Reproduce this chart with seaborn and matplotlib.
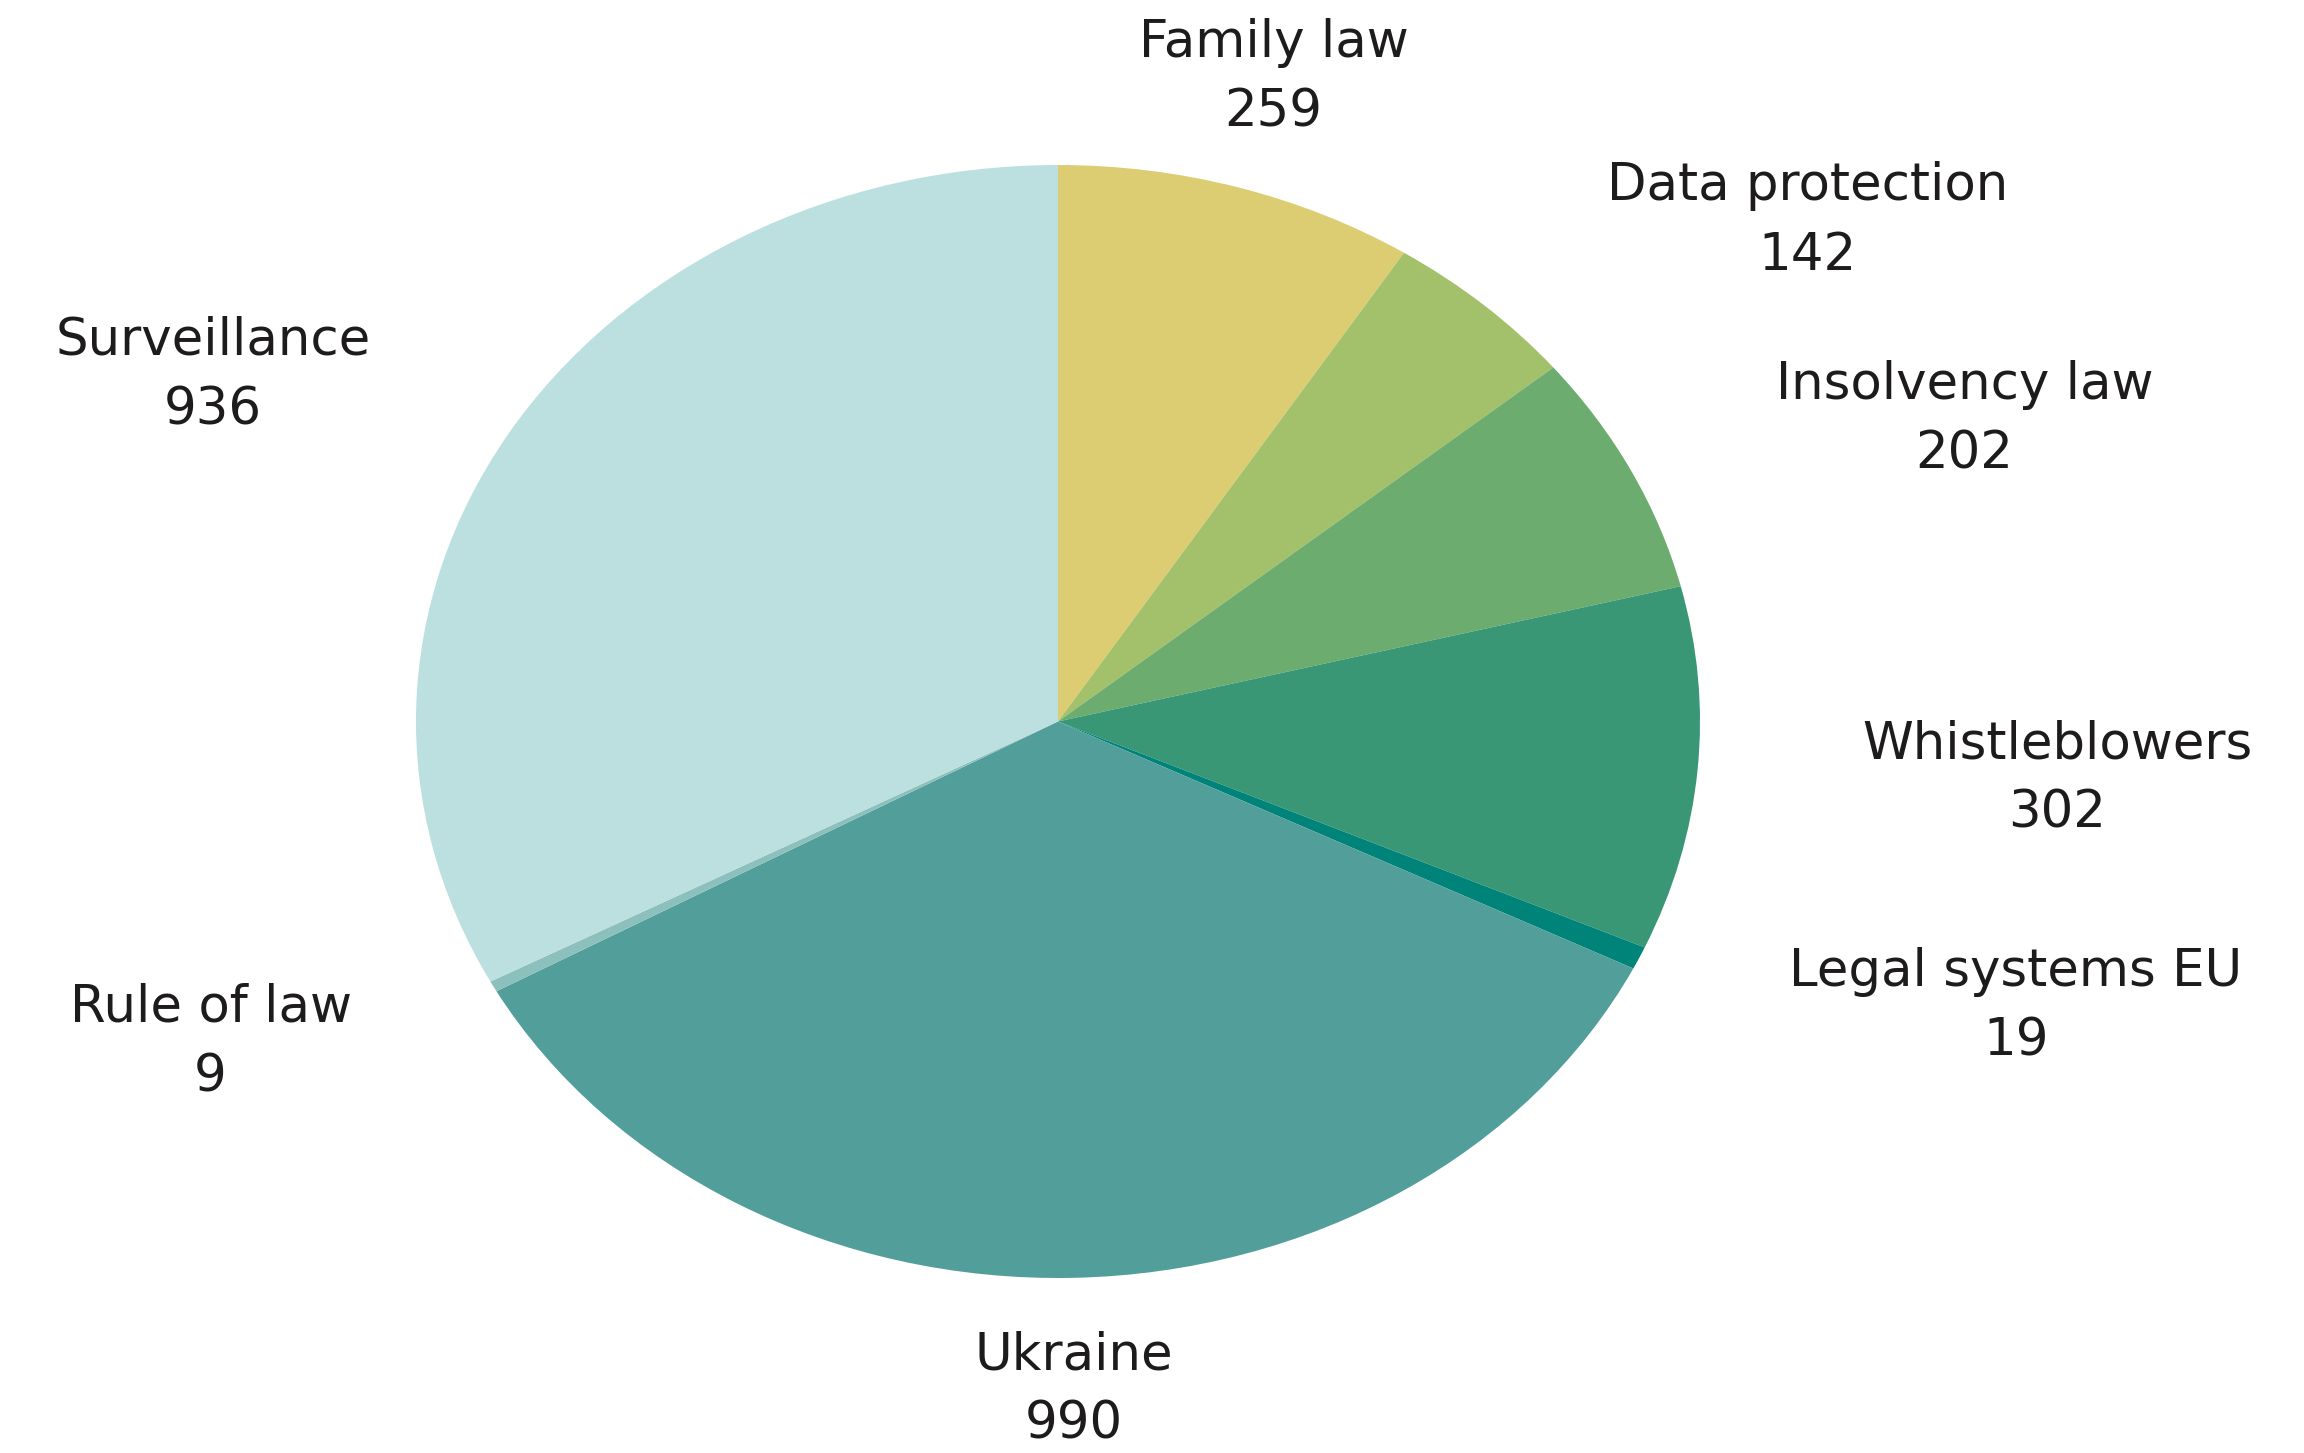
import matplotlib
matplotlib.use("Agg")
import matplotlib.pyplot as plt
import seaborn as sns

# Data (clockwise from 12 o'clock)
categories = ["Family law", "Data protection", "Insolvency law", "Whistleblowers",
              "Legal systems EU", "Ukraine", "Rule of law", "Surveillance"]
counts = [259, 142, 202, 302, 19, 990, 9, 936]
colors = ["#DCCD72", "#A3C06B", "#6CAC6E", "#3A9775",
          "#00847A", "#529E9A", "#8CC0BD", "#BCDFDF"]

# label centres in axes data units (pie radius = 1)
label_pos = [(0.336, 1.156), (1.167, 0.899), (1.412, 0.542), (1.556, -0.103),
             (1.492, -0.513), (0.025, -1.201), (-1.320, -0.577), (-1.316, 0.622)]

sns.set_theme(style="white")
plt.rcParams['font.family'] = ['DejaVu Sans']

fig = plt.figure(figsize=(23.04, 14.53), dpi=100)
ax = fig.add_axes([416 / 2304, 1 - 1278 / 1453, 1284 / 2304, 1113 / 1453])

wedges, texts = ax.pie(counts, colors=colors, startangle=90, counterclock=False,
                       labels=[f"{c}\n{v}" for c, v in zip(categories, counts)],
                       wedgeprops=dict(linewidth=0), textprops=dict(fontsize=37, color="#1E1B1D"))
for t, (x, y) in zip(texts, label_pos):
    t.set_position((x, y))
    t.set_ha("center")
    t.set_va("center")
    t.set_linespacing(1.5)
    t.set_clip_on(False)

ax.set_aspect("auto")
ax.set_xlim(-1, 1)
ax.set_ylim(-1, 1)
ax.axis("off")

fig.savefig("out.png", dpi=100, facecolor="white")
